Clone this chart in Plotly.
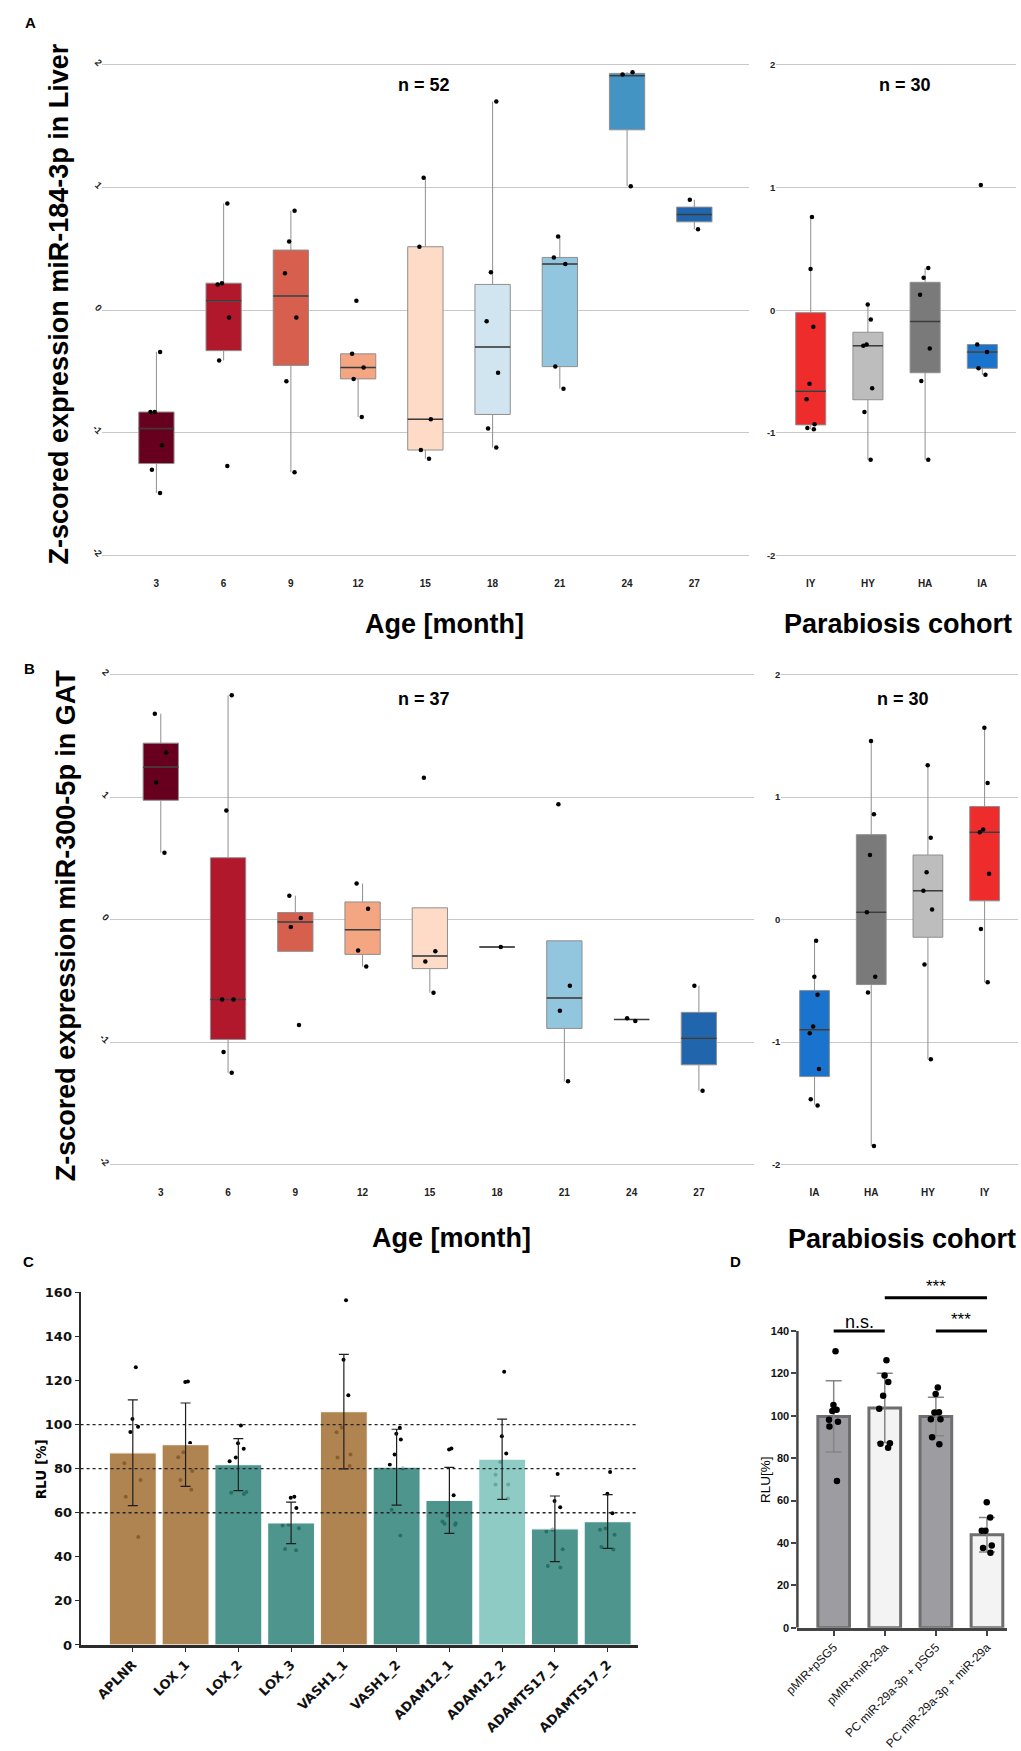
import plotly.graph_objects as go

W, H = 1021, 1751
def fx(p): return p / W
def fy(p): return 1 - p / H

ARIAL = 'Liberation Sans, Arial, sans-serif'
DEJAVU = 'DejaVu Sans, sans-serif'

# ---------------- Panel A: miR-184-3p in Liver ----------------
age_labels = ['3', '6', '9', '12', '15', '18', '21', '24', '27']
age_colors = ['#67001f', '#b2182b', '#d6604d', '#f4a582', '#fddbc7',
              '#d1e5f0', '#92c5de', '#4393c3', '#2166ac']

liver_q1 = [-1.25, -0.33, -0.45, -0.56, -1.14, -0.85, -0.46, 1.47, 0.72]
liver_med = [-0.965, 0.076, 0.115, -0.468, -0.89, -0.30, 0.376, 1.91, 0.78]
liver_q3 = [-0.83, 0.22, 0.49, -0.356, 0.517, 0.21, 0.43, 1.93, 0.84]
liver_lo = [-1.49, -0.41, -1.32, -0.87, -1.21, -1.12, -0.64, 1.01, 0.66]
liver_hi = [-0.34, 0.87, 0.81, -0.356, 1.08, 1.70, 0.60, 1.94, 0.90]
liver_pts = [
    [-0.34, -0.83, -0.83, -1.10, -1.30, -1.49],
    [0.87, 0.22, 0.21, -0.06, -0.41, -1.27],
    [0.81, 0.56, 0.30, -0.06, -0.58, -1.32],
    [0.076, -0.356, -0.468, -0.56, -0.87],
    [1.08, 0.517, -0.89, -1.14, -1.21],
    [1.70, 0.31, -0.09, -0.51, -0.965, -1.12],
    [0.60, 0.43, 0.376, -0.46, -0.64],
    [1.94, 1.92, 1.01],
    [0.90, 0.66],
]

cohort_liver = ['IY', 'HY', 'HA', 'IA']
cohort_liver_colors = ['#ee2c2c', '#bdbdbd', '#7a7a7a', '#1a73cc']
pl_q1 = [-0.935, -0.73, -0.51, -0.474]
pl_med = [-0.66, -0.29, -0.092, -0.34]
pl_q3 = [-0.02, -0.18, 0.227, -0.28]
pl_lo = [-0.97, -1.22, -1.22, -0.527]
pl_hi = [0.76, 0.046, 0.343, -0.28]
pl_pts = [
    [0.76, 0.336, -0.135, -0.60, -0.725, -0.93, -0.97, -0.96],
    [0.046, -0.076, -0.28, -0.29, -0.636, -0.83, -1.22],
    [0.343, 0.264, 0.125, -0.313, -0.577, -1.22],
    [1.02, -0.28, -0.34, -0.474, -0.527],
]

# ---------------- Panel B: miR-300-5p in GAT ----------------
gat_q1 = [0.974, -0.978, -0.259, -0.284, -0.40, -0.224, -0.888, -0.815, -1.185]
gat_med = [1.243, -0.652, -0.019, -0.083, -0.297, -0.224, -0.639, -0.815, -0.968]
gat_q3 = [1.44, 0.505, 0.058, 0.144, 0.096, -0.224, -0.173, -0.815, -0.757]
gat_lo = [0.546, -1.25, -0.259, -0.383, -0.597, -0.224, -1.32, -0.815, -1.396]
gat_hi = [1.68, 1.83, 0.195, 0.294, 0.096, -0.224, -0.173, -0.815, -0.54]
gat_pts = [
    [1.68, 1.364, 1.118, 0.546],
    [1.83, 0.89, -0.652, -0.652, -1.08, -1.25],
    [0.195, 0.013, -0.06, -0.86],
    [0.294, 0.089, -0.252, -0.383],
    [1.157, -0.259, -0.342, -0.597],
    [-0.224],
    [0.942, -0.54, -0.744, -1.32],
    [-0.805, -0.827],
    [-0.54, -1.396],
]

cohort_gat = ['IA', 'HA', 'HY', 'IY']
cohort_gat_colors = ['#1a73cc', '#7a7a7a', '#bdbdbd', '#ee2c2c']
pg_q1 = [-1.281, -0.53, -0.144, 0.153]
pg_med = [-0.898, 0.061, 0.236, 0.712]
pg_q3 = [-0.578, 0.693, 0.527, 0.923]
pg_lo = [-1.51, -1.847, -1.14, -0.511]
pg_hi = [-0.173, 1.457, 1.259, 1.566]
pg_pts = [
    [-0.173, -0.466, -0.613, -0.872, -0.927, -1.22, -1.466, -1.518],
    [1.457, 0.859, 0.527, 0.061, -0.466, -0.594, -1.847],
    [1.259, 0.668, 0.387, 0.236, 0.083, -0.367, -1.14],
    [1.566, 1.115, 0.735, 0.712, 0.374, -0.077, -0.511],
]

z_ticks = [-2, -1, 0, 1, 2]
z_ticktext = ['-2', '-1', '0', '1', '2']

# ---------------- Panel C: luciferase targets ----------------
c_names = ['APLNR', 'LOX_1', 'LOX_2', 'LOX_3', 'VASH1_1', 'VASH1_2',
           'ADAM12_1', 'ADAM12_2', 'ADAMTS17_1', 'ADAMTS17_2']
c_mean = [87.2, 90.9, 81.8, 55.4, 105.9, 80.7, 65.6, 84.3, 52.7, 56.0]
c_sd = [24.0, 18.9, 11.8, 9.4, 26.0, 17.2, 15.0, 18.2, 14.9, 12.2]
c_group = ['brown', 'brown', 'teal', 'teal', 'brown', 'teal', 'teal', 'light', 'teal', 'teal']
c_pts = [
    [126.0, 102.5, 96.6, 99.0, 82.5, 74.9, 67.3, 49.0],
    [119.3, 119.6, 91.7, 87.5, 85.2, 79.0, 74.9, 70.4],
    [99.6, 89.0, 85.1, 91.5, 83.4, 68.5, 69.4, 69.1],
    [66.8, 67.3, 62.2, 54.5, 54.2, 53.0, 43.0, 43.6],
    [156.4, 129.4, 113.3, 98.7, 96.5, 81.2, 86.4, 85.1],
    [98.6, 95.9, 93.2, 86.4, 81.8, 80.1, 61.4, 49.7],
    [89.1, 88.7, 67.9, 58.7, 56.0, 54.5, 55.0, 55.2],
    [124.0, 94.7, 86.9, 83.0, 77.2, 72.8, 72.8, 66.5],
    [77.6, 65.3, 62.5, 52.3, 51.5, 43.4, 35.8, 35.1],
    [78.5, 68.6, 59.8, 52.9, 52.3, 50.0, 44.5, 43.3],
]
c_ref_lines = [60, 80, 100]
c_yticks = [0, 20, 40, 60, 80, 100, 120, 140, 160]
c_colors = {'brown': 'rgba(162,110,49,0.85)', 'teal': 'rgba(47,131,122,0.85)',
            'light': 'rgba(122,194,186,0.85)'}

# ---------------- Panel D: miR-29a reporter ----------------
d_names = ['pMIR+pSG5', 'pMIR+miR-29a', 'PC miR-29a-3p + pSG5', 'PC miR-29a-3p + miR-29a']
d_mean = [99.7, 103.7, 99.7, 43.9]
d_sd = [16.8, 16.35, 9.1, 8.1]
d_fill = ['#9c9ca1', '#f3f3f3', '#9c9ca1', '#f3f3f3']
d_pts = [
    [130.5, 105.1, 102.3, 102.8, 98.1, 97.2, 95.0, 69.3],
    [126.2, 119.0, 115.9, 109.5, 103.3, 87.1, 86.8, 84.9],
    [113.4, 110.3, 101.7, 101.6, 98.4, 98.4, 89.9, 86.6],
    [59.2, 52.0, 45.8, 45.8, 38.8, 37.7, 35.4],
]
d_yticks = [0, 20, 40, 60, 80, 100, 120, 140]
d_sig = [(0, 1, 'n.s.', 140.0), (1, 3, '***', 155.7), (2, 3, '***', 140.0)]

fig = go.Figure()


def box_panel(xa, ya, cats, colors, q1, med, q3, lo, hi, pts):
    for i, c in enumerate(cats):
        fig.add_trace(go.Box(
            x=[c], q1=[q1[i]], median=[med[i]], q3=[q3[i]],
            lowerfence=[lo[i]], upperfence=[hi[i]],
            fillcolor=colors[i], line=dict(color='#8f8f8f', width=1),
            boxpoints=False, whiskerwidth=0, xaxis=xa, yaxis=ya,
            showlegend=False, hoverinfo='skip'))
    fig.add_trace(go.Box(
        x=cats, q1=med, median=med, q3=med, lowerfence=med, upperfence=med,
        fillcolor='rgba(0,0,0,0)', line=dict(color='#3c3c3c', width=1.5),
        boxpoints=False, whiskerwidth=0, xaxis=xa, yaxis=ya,
        showlegend=False, hoverinfo='skip'))
    for i, c in enumerate(cats):
        fig.add_trace(go.Box(
            x=[c] * len(pts[i]), y=pts[i], boxpoints='all', jitter=0.4, pointpos=0,
            fillcolor='rgba(0,0,0,0)', line=dict(color='rgba(0,0,0,0)', width=0),
            marker=dict(color='black', size=4.5), xaxis=xa, yaxis=ya,
            showlegend=False, hoverinfo='skip'))


box_panel('x', 'y', age_labels, age_colors, liver_q1, liver_med, liver_q3, liver_lo, liver_hi, liver_pts)
box_panel('x2', 'y2', cohort_liver, cohort_liver_colors, pl_q1, pl_med, pl_q3, pl_lo, pl_hi, pl_pts)
box_panel('x3', 'y3', age_labels, age_colors, gat_q1, gat_med, gat_q3, gat_lo, gat_hi, gat_pts)
box_panel('x4', 'y4', cohort_gat, cohort_gat_colors, pg_q1, pg_med, pg_q3, pg_lo, pg_hi, pg_pts)

# Panel C: points underneath translucent bars (bars on overlaying axes)
for i, n in enumerate(c_names):
    fig.add_trace(go.Box(
        x=[n] * len(c_pts[i]), y=c_pts[i], boxpoints='all', jitter=0.8, pointpos=0,
        fillcolor='rgba(0,0,0,0)', line=dict(color='rgba(0,0,0,0)', width=0),
        marker=dict(color='black', size=4), xaxis='x5', yaxis='y5',
        showlegend=False, hoverinfo='skip'))
fig.add_trace(go.Bar(
    x=c_names, y=c_mean, width=0.89,
    marker=dict(color=[c_colors[g] for g in c_group], line=dict(color='rgba(255,255,255,0.9)', width=1.2)),
    error_y=dict(type='data', array=c_sd, color='#1e1e1e', thickness=1.2, width=5),
    xaxis='x6', yaxis='y6', showlegend=False, hoverinfo='skip'))

# Panel D
fig.add_trace(go.Bar(
    x=d_names, y=d_mean, width=0.62,
    marker=dict(color=d_fill, line=dict(color='#6e6e6e', width=3)),
    error_y=dict(type='data', array=d_sd, color='#858585', thickness=1.5, width=8),
    xaxis='x7', yaxis='y7', showlegend=False, hoverinfo='skip'))
for i, n in enumerate(d_names):
    fig.add_trace(go.Box(
        x=[n] * len(d_pts[i]), y=d_pts[i], boxpoints='all', jitter=0.5, pointpos=0,
        fillcolor='rgba(0,0,0,0)', line=dict(color='rgba(0,0,0,0)', width=0),
        marker=dict(color='black', size=6.5), xaxis='x7', yaxis='y7',
        showlegend=False, hoverinfo='skip'))

# ---------------- axes ----------------
def zx(dom, cats, rng, anchor, standoff):
    return dict(domain=dom, type='category', categoryorder='array', categoryarray=cats,
                range=rng, showgrid=False, zeroline=False, showline=False, ticks='',
                ticklabelstandoff=standoff, anchor=anchor,
                tickfont=dict(family=ARIAL, size=10, color='#222', weight='bold'))


def zy(dom, angle, anchor):
    return dict(domain=dom, range=[-2.07, 2.07], tickvals=z_ticks, ticktext=z_ticktext,
                showgrid=True, gridcolor='#c8c8c8', gridwidth=1.3, zeroline=False,
                showline=False, ticks='', tickangle=angle, anchor=anchor,
                tickfont=dict(family=ARIAL, size=9.5, color='#222', weight='bold'))


yA = [fy(562.6), fy(49.7)]
yB = [fy(1177.7), fy(665.4)]
cat_font_c = dict(family=DEJAVU, size=13, color='#111', weight='bold')
arial_d = dict(family=ARIAL, size=12, color='#111')

fig.update_layout(
    width=W, height=H, margin=dict(l=0, r=0, t=0, b=0),
    paper_bgcolor='white', plot_bgcolor='white', showlegend=False,
    boxmode='overlay', boxgap=0.25,
    xaxis=zx([fx(89.7), fx(745)], age_labels, [-0.802, 8.81], 'y', 12),
    yaxis=zy(yA, 45, 'x'),
    xaxis2=zx([fx(773), fx(1016)], cohort_liver, [-0.6, 3.59], 'y2', 12),
    yaxis2=zy(yA, 0, 'x2'),
    xaxis3=zx([fx(97), fx(750)], age_labels, [-0.76, 8.815], 'y3', 12),
    yaxis3=zy(yB, 45, 'x3'),
    xaxis4=zx([fx(778), fx(1018)], cohort_gat, [-0.586, 3.59], 'y4', 12),
    yaxis4=zy(yB, 0, 'x4'),
    xaxis5=dict(domain=[fx(67.5), fx(632.4)], type='category', categoryorder='array',
                categoryarray=c_names, range=[-0.99, 9.57], showgrid=False, zeroline=False,
                showline=True, linecolor='#2b2b2b', linewidth=3, ticks='outside', ticklen=4,
                tickcolor='#2b2b2b', tickangle=-45, tickfont=cat_font_c, anchor='y5'),
    yaxis5=dict(domain=[fy(1654), fy(1298)], range=[0, 160], tickvals=c_yticks,
                showgrid=False, zeroline=False, showline=True, linecolor='#2b2b2b',
                linewidth=2, ticks='outside', ticklen=4, tickcolor='#2b2b2b',
                tickfont=cat_font_c, anchor='x5'),
    xaxis6=dict(overlaying='x5', type='category', categoryorder='array', categoryarray=c_names,
                range=[-0.99, 9.57], showgrid=False, zeroline=False, showline=False,
                showticklabels=False, ticks='', anchor='y6'),
    yaxis6=dict(overlaying='y5', range=[0, 160], showgrid=False, zeroline=False,
                showline=False, showticklabels=False, ticks='', anchor='x6'),
    xaxis7=dict(domain=[fx(794.3), fx(1006.7)], type='category', categoryorder='array',
                categoryarray=d_names, range=[-0.71, 3.39], showgrid=False, zeroline=False,
                showline=True, linecolor='#444', linewidth=2.5, ticks='outside', ticklen=5,
                tickwidth=2, tickcolor='#444', tickangle=-45, tickfont=arial_d, anchor='y7'),
    yaxis7=dict(domain=[fy(1636.7), fy(1281.3)], range=[0, 166], tickvals=d_yticks,
                showgrid=False, zeroline=False, showline=False, ticks='outside', ticklen=5,
                tickwidth=2, tickcolor='#444', anchor='x7',
                tickfont=dict(family=ARIAL, size=11, color='#111', weight='bold')),
)

shapes = []
for v in c_ref_lines:
    shapes.append(dict(type='line', xref='x5 domain', yref='y5', x0=0, x1=1, y0=v, y1=v,
                       line=dict(color='#222', width=1.3, dash='dot'), layer='above'))
shapes.append(dict(type='line', xref='x7 domain', yref='y7', x0=0, x1=0, y0=0, y1=140,
                   line=dict(color='#444', width=2.5)))
for a, b, lab, yv in d_sig:
    shapes.append(dict(type='line', xref='x7', yref='y7', x0=a, x1=b, y0=yv, y1=yv,
                       line=dict(color='black', width=3)))
fig.update_layout(shapes=shapes)

ann = []
def txt(x, y, s, size, family=ARIAL, bold=True, angle=0, xanchor='center', yanchor='middle'):
    ann.append(dict(x=fx(x), y=fy(y), xref='paper', yref='paper', text=s, showarrow=False,
                    textangle=angle, xanchor=xanchor, yanchor=yanchor,
                    font=dict(family=family, size=size, color='black',
                              weight='bold' if bold else 'normal')))

txt(17, 16, 'A', 15)
txt(15.5, 668, 'B', 15)
txt(15, 1267, 'C', 15)
txt(732, 1267, 'D', 15)
txt(46, 300, 'Z-scored expression miR-184-3p in Liver', 27, angle=-90)
txt(53, 927, 'Z-scored expression miR-300-5p in GAT', 27, angle=-90)
txt(436, 623, 'Age [month]', 27)
txt(896, 623, 'Parabiosis cohort', 27)
txt(443.5, 1243, 'Age [month]', 27)
txt(900, 1244, 'Parabiosis cohort', 27)
txt(416, 79, 'n = 52', 18)
txt(903, 79, 'n = 30', 18)
txt(416, 698.6, 'n = 37', 18)
txt(901, 698.6, 'n = 30', 18)
txt(27, 1477, 'RLU [%]', 13.5, family=DEJAVU, angle=-90)
txt(762, 1487, 'RLU[%]', 13.5, bold=False, angle=-90)

for a, b, lab, yv in d_sig:
    ann.append(dict(x=(a + b) / 2, y=yv, xref='x7', yref='y7', text=lab, showarrow=False,
                    xanchor='center', yanchor='bottom', yshift=-3 if lab == 'n.s.' else 0,
                    font=dict(family=ARIAL, size=18 if lab == 'n.s.' else 17, color='black')))
fig.update_layout(annotations=ann)

fig.write_html('out.html', config={'displayModeBar': False},
               post_script="document.body.style.margin='0';document.body.style.overflow='hidden';")
